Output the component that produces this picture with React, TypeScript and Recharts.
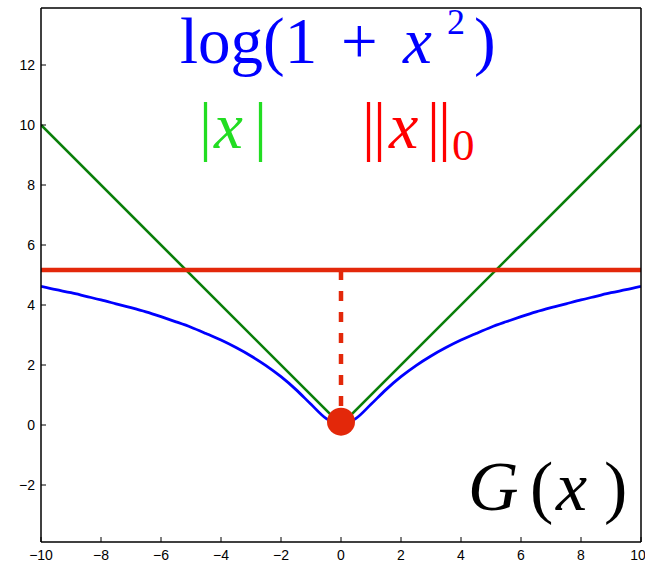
import React from 'react';
import { ComposedChart, Line, XAxis, YAxis, ReferenceDot, Customized } from 'recharts';

const xTicks = [-10, -8, -6, -4, -2, 0, 2, 4, 6, 8, 10];
const yTicks = [-2, 0, 2, 4, 6, 8, 10, 12];

const logX = [-10, -9.5, -9, -8.5, -8, -7.5, -7, -6.5, -6, -5.5, -5, -4.5, -4, -3.5, -3, -2.5, -2, -1.5, -1, -0.5, 0, 0.5, 1, 1.5, 2, 2.5, 3, 3.5, 4, 4.5, 5, 5.5, 6, 6.5, 7, 7.5, 8, 8.5, 9, 9.5, 10];
const logY = [4.62, 4.51, 4.41, 4.29, 4.17, 4.04, 3.91, 3.77, 3.61, 3.44, 3.26, 3.05, 2.83, 2.58, 2.30, 1.98, 1.61, 1.18, 0.69, 0.22, 0, 0.22, 0.69, 1.18, 1.61, 1.98, 2.30, 2.58, 2.83, 3.05, 3.26, 3.44, 3.61, 3.77, 3.91, 4.04, 4.17, 4.29, 4.41, 4.51, 4.62];
const absX = [-10, 0, 10];
const absY = [10, 0, 10];
const l0X = [-10, 10];
const l0Y = [5.17, 5.17];
const stemX = [0, 0];
const stemY = [5.17, 0.11];
const dotX = 0;
const dotY = 0.11;

const zip = (xs: number[], ys: number[]) => xs.map((x, i) => ({ x, y: ys[i] }));
const logData = zip(logX, logY);
const absData = zip(absX, absY);
const l0Data = zip(l0X, l0Y);
const stemData = zip(stemX, stemY);

const fmt = (v: number) => (v < 0 ? '\u2212' + Math.abs(v) : String(v));

const serif = 'Liberation Serif';
const BLUE = '#0000ff';
const GREEN_LINE = '#0a7f0a';
const RED = '#e3280a';

const Labels = () => (
  <g>
    <text fontFamily={serif} fontSize={65} fill={BLUE}>
      <tspan x={180} y={63}>log(1</tspan>
      <tspan x={341} y={63}>+</tspan>
      <tspan x={403} y={63} fontStyle="italic">x</tspan>
      <tspan x={447} y={34} fontSize={36}>2</tspan>
      <tspan x={474} y={63}>)</tspan>
    </text>
    <text fontFamily={serif} fontSize={65} fill="#22dd22">
      <tspan x={199} y={148}>|</tspan>
      <tspan x={214} y={148} fontStyle="italic">x</tspan>
      <tspan x={254} y={148}>|</tspan>
    </text>
    <text fontFamily={serif} fontSize={65} fill="#ff0000" letterSpacing={-2}>
      <tspan x={362} y={148}>||</tspan>
    </text>
    <text fontFamily={serif} fontSize={66} fill="#ff0000">
      <tspan x={389} y={148} fontStyle="italic">x</tspan>
    </text>
    <text fontFamily={serif} fontSize={65} fill="#ff0000" letterSpacing={-2}>
      <tspan x={427} y={148}>||</tspan>
    </text>
    <text fontFamily={serif} fontSize={45} fill="#ff0000">
      <tspan x={452} y={160}>0</tspan>
    </text>
    <text fontFamily={serif} fontSize={70} fill="#000">
      <tspan x={468} y={510} fontStyle="italic">G</tspan>
      <tspan x={530} y={510}>(</tspan>
      <tspan x={556} y={510} fontStyle="italic">x</tspan>
      <tspan x={604} y={510}>)</tspan>
    </text>
  </g>
);

export default function App() {
  const tickStyle = { fontFamily: 'Liberation Sans', fontSize: 14, fill: '#000' };
  const axisStroke = { stroke: '#000', strokeWidth: 1.5 };
  return (
    <div style={{ position: 'absolute', left: 0, top: 0 }}>
      <ComposedChart width={645} height={563} margin={{ top: 7, right: 3, bottom: 0, left: 0 }}>
        <XAxis
          xAxisId="b"
          type="number"
          dataKey="x"
          domain={[-10, 10]}
          ticks={xTicks}
          tickFormatter={fmt}
          orientation="bottom"
          height={21}
          tickSize={-5}
          tickMargin={13}
          tick={tickStyle}
          axisLine={axisStroke}
          tickLine={{ stroke: '#000' }}
          allowDataOverflow
        />
        <XAxis
          xAxisId="t"
          type="number"
          dataKey="x"
          domain={[-10, 10]}
          ticks={xTicks}
          orientation="top"
          height={1}
          tickSize={-5}
          tick={false}
          axisLine={axisStroke}
          tickLine={{ stroke: '#000' }}
        />
        <YAxis
          yAxisId="l"
          type="number"
          domain={[-3.9, 13.9]}
          ticks={yTicks}
          tickFormatter={fmt}
          orientation="left"
          width={41}
          tickSize={-5}
          tickMargin={11}
          tick={tickStyle}
          axisLine={axisStroke}
          tickLine={{ stroke: '#000' }}
          allowDataOverflow
        />
        <YAxis
          yAxisId="r"
          type="number"
          domain={[-3.9, 13.9]}
          ticks={yTicks}
          orientation="right"
          width={1}
          tickSize={-5}
          tick={false}
          axisLine={axisStroke}
          tickLine={{ stroke: '#000' }}
        />
        <Line xAxisId="b" yAxisId="l" data={absData} dataKey="y" type="linear" stroke={GREEN_LINE} strokeWidth={2.6} dot={false} isAnimationActive={false} />
        <Line xAxisId="b" yAxisId="l" data={logData} dataKey="y" type="monotone" stroke={BLUE} strokeWidth={2.8} dot={false} isAnimationActive={false} />
        <Line xAxisId="b" yAxisId="l" data={l0Data} dataKey="y" type="linear" stroke={RED} strokeWidth={4.5} dot={false} isAnimationActive={false} />
        <Line xAxisId="b" yAxisId="l" data={stemData} dataKey="y" type="linear" stroke={RED} strokeWidth={4.5} strokeDasharray="10 11" dot={false} isAnimationActive={false} />
        <ReferenceDot xAxisId="b" yAxisId="l" x={dotX} y={dotY} r={14} fill={RED} stroke="none" />
        <Customized component={Labels} />
      </ComposedChart>
    </div>
  );
}
